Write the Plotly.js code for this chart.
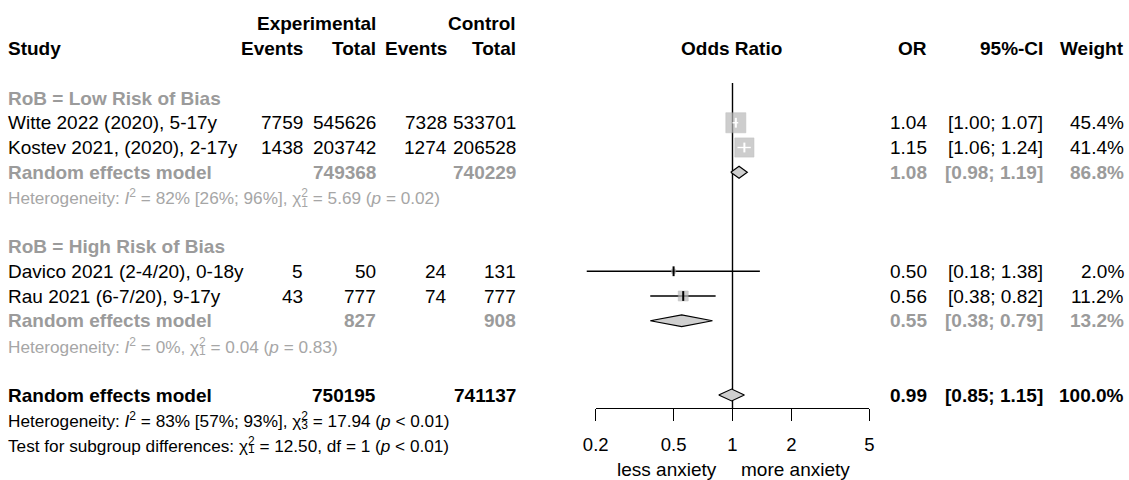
<!DOCTYPE html>
<html>
<head>
<meta charset="utf-8">
<script src="https://cdn.plot.ly/plotly-3.0.1.min.js"></script>
<style>html,body{margin:0;padding:0;background:#fff;}#chart{width:1129px;height:480px;}</style>
</head>
<body>
<div id="chart"></div>
<script>
// ---------------- data ----------------
const studies = ['Witte 2022 (2020), 5-17y', 'Kostev 2021, (2020), 2-17y', 'Davico 2021 (2-4/20), 0-18y', 'Rau 2021 (6-7/20), 9-17y'];
const studyGroup = [0, 0, 1, 1];
const expEvents = [7759, 1438, 5, 43];
const expTotal = [545626, 203742, 50, 777];
const ctrlEvents = [7328, 1274, 24, 74];
const ctrlTotal = [533701, 206528, 131, 777];
const oddsRatio = [1.04, 1.15, 0.50, 0.56];
const ciLower = [1.00, 1.06, 0.18, 0.38];
const ciUpper = [1.07, 1.24, 1.38, 0.82];
const weight = [45.4, 41.4, 2.0, 11.2];

const groupLabels = ['RoB = Low Risk of Bias', 'RoB = High Risk of Bias'];
const groupExpTotal = [749368, 827];
const groupCtrlTotal = [740229, 908];
const groupOR = [1.08, 0.55];
const groupLower = [0.98, 0.38];
const groupUpper = [1.19, 0.79];
const groupWeight = [86.8, 13.2];
const groupHetI2 = ['82% [26%; 96%]', '0%'];
const groupHetDf = ['1', '1'];
const groupHetChi = ['5.69', '0.04'];
const groupHetP = ['= 0.02', '= 0.83'];

const overallLabel = 'Random effects model';
const overallExpTotal = 750195;
const overallCtrlTotal = 741137;
const overallOR = 0.99;
const overallLower = 0.85;
const overallUpper = 1.15;
const overallWeight = 100.0;
const overallHetI2 = '83% [57%; 93%]';
const overallHetDf = '3';
const overallHetChi = '17.94';
const overallHetP = '&lt; 0.01';
const subgroupChi = '12.50';
const subgroupDf = '1';
const subgroupP = '&lt; 0.01';

const tickVals = [0.2, 0.5, 1, 2, 5];
const tickText = ['0.2', '0.5', '1', '2', '5'];
const refValue = 1;
const labelLeft = 'less anxiety';
const labelRight = 'more anxiety';

// ---------------- layout geometry ----------------
const W = 1129, H = 480;
const FONT = 'Liberation Sans, Arial, sans-serif';
const FS = 19, FS_HET = 17.2;
const GREY = '#9b9b9b', GREY_HET = '#a6a6a6';
const rowTop = 98, rowH = 24.75;
const rowOf = px => (px - rowTop) / rowH;
const axL = 595.7, axR = 869.3, axYpx = 408;
const lgLo = Math.log10(tickVals[0]), lgHi = Math.log10(tickVals[tickVals.length - 1]);
const ppd = (axR - axL) / (lgHi - lgLo);
const x2range = [lgLo - axL / ppd, lgHi + (W - axR) / ppd];

const col = {study: 8, expEv: 303, expTot: 376, ctrlEv: 447, ctrlTot: 516, plot: 731, or: 927, ci: 1043, w: 1124};

const annotations = [];
function ann(text, xpx, row, anchor, opt) {
  opt = opt || {};
  annotations.push({
    text: opt.bold ? '<b>' + text + '</b>' : text,
    x: xpx / W, xref: 'paper', xanchor: anchor,
    y: row, yref: 'y', yanchor: 'middle',
    showarrow: false, borderpad: 0, borderwidth: 0,
    font: {family: FONT, size: opt.size || FS, color: opt.color || '#000'}
  });
}
function fmt2(v) { return v.toFixed(2); }
function ciText(l, u) { return '[' + fmt2(l) + '; ' + fmt2(u) + ']'; }
function wText(w) { return w.toFixed(1) + '%'; }
function hetLine(row, prefixPlain, i2, df, chi, p, color, withI2) {
  let prefix = prefixPlain;
  if (withI2) prefix += '<i>I</i><sup>2</sup> = ' + i2 + ', ';
  prefix += 'χ';
  const suffix = ' = ' + chi + (p !== null ? ' (<i>p</i> ' + p + ')' : '');
  ann(prefix + '<sup>2</sup>' + suffix, col.study, row, 'left', {size: FS_HET, color: color});
  ann('<span style="color:rgba(0,0,0,0)">' + prefix + '</span><sub>' + df + '</sub>', col.study, row, 'left', {size: FS_HET, color: color});
}

// header
ann('Experimental', col.expTot, -3, 'right', {bold: true});
ann('Control', col.ctrlTot, -3, 'right', {bold: true});
ann('Study', col.study, -2, 'left', {bold: true});
ann('Events', col.expEv, -2, 'right', {bold: true});
ann('Total', col.expTot, -2, 'right', {bold: true});
ann('Events', col.ctrlEv, -2, 'right', {bold: true});
ann('Total', col.ctrlTot, -2, 'right', {bold: true});
ann('Odds Ratio', col.plot, -2, 'center', {bold: true});
ann('OR', col.or, -2, 'right', {bold: true});
ann('95%-CI', col.ci, -2, 'right', {bold: true});
ann('Weight', col.w, -2, 'right', {bold: true});

// rows
const studyRow = [];
const groupRow = [];
let r = 0;
for (let g = 0; g < groupLabels.length; g++) {
  ann(groupLabels[g], col.study, r, 'left', {bold: true, color: GREY});
  r++;
  for (let i = 0; i < studies.length; i++) {
    if (studyGroup[i] !== g) continue;
    studyRow[i] = r;
    ann(studies[i], col.study, r, 'left');
    ann(String(expEvents[i]), col.expEv, r, 'right');
    ann(String(expTotal[i]), col.expTot, r, 'right');
    ann(String(ctrlEvents[i]), col.ctrlEv, r, 'right');
    ann(String(ctrlTotal[i]), col.ctrlTot, r, 'right');
    ann(fmt2(oddsRatio[i]), col.or, r, 'right');
    ann(ciText(ciLower[i], ciUpper[i]), col.ci, r, 'right');
    ann(wText(weight[i]), col.w, r, 'right');
    r++;
  }
  groupRow[g] = r;
  const o = {bold: true, color: GREY};
  ann('Random effects model', col.study, r, 'left', o);
  ann(String(groupExpTotal[g]), col.expTot, r, 'right', o);
  ann(String(groupCtrlTotal[g]), col.ctrlTot, r, 'right', o);
  ann(fmt2(groupOR[g]), col.or, r, 'right', o);
  ann(ciText(groupLower[g], groupUpper[g]), col.ci, r, 'right', o);
  ann(wText(groupWeight[g]), col.w, r, 'right', o);
  r++;
  hetLine(r, 'Heterogeneity: ', groupHetI2[g], groupHetDf[g], groupHetChi[g], groupHetP[g], GREY_HET, true);
  r += 2;
}
const overallRow = r;
ann(overallLabel, col.study, r, 'left', {bold: true});
ann(String(overallExpTotal), col.expTot, r, 'right', {bold: true});
ann(String(overallCtrlTotal), col.ctrlTot, r, 'right', {bold: true});
ann(fmt2(overallOR), col.or, r, 'right', {bold: true});
ann(ciText(overallLower, overallUpper), col.ci, r, 'right', {bold: true});
ann(wText(overallWeight), col.w, r, 'right', {bold: true});
r++;
hetLine(r, 'Heterogeneity: ', overallHetI2, overallHetDf, overallHetChi, overallHetP, '#000', true);
r++;
hetLine(r, 'Test for subgroup differences: ', '', subgroupDf, subgroupChi + ', df = ' + subgroupDf, subgroupP, '#000', false);

// axis labels below
ann(labelLeft, 667, rowOf(469), 'center');
ann(labelRight, 795, rowOf(469), 'center');

// ---------------- traces ----------------
const traces = [];
const axisRow = rowOf(axYpx);
traces.push({x: [refValue, refValue], y: [rowOf(83), axisRow], xaxis: 'x', yaxis: 'y', mode: 'lines', line: {color: '#000', width: 1.4}, hoverinfo: 'skip'});

const boxK = 20 / Math.sqrt(45.4);
const boxSize = weight.map(w => boxK * Math.sqrt(w));
const inside = oddsRatio.map((e, i) => {
  const f = Math.pow(10, (boxSize[i] / 2) / ppd);
  return ciLower[i] >= e / f && ciUpper[i] <= e * f;
});
const blackX = [], blackY = [], whiteX = [], whiteY = [];
for (let i = 0; i < studies.length; i++) {
  const X = inside[i] ? whiteX : blackX, Y = inside[i] ? whiteY : blackY;
  X.push(ciLower[i], ciUpper[i], null);
  Y.push(studyRow[i], studyRow[i], null);
}
traces.push({x: blackX, y: blackY, xaxis: 'x2', yaxis: 'y', mode: 'lines', line: {color: '#000', width: 1.4}, hoverinfo: 'skip'});
traces.push({x: oddsRatio, y: studyRow, xaxis: 'x2', yaxis: 'y', mode: 'markers',
  marker: {symbol: 'square', size: boxSize, color: '#b9b9b9', line: {color: '#a8a8a8', width: 0.6}}, hoverinfo: 'skip'});
traces.push({x: whiteX, y: whiteY, xaxis: 'x2', yaxis: 'y', mode: 'lines', line: {color: '#fff', width: 1.4}, hoverinfo: 'skip'});
traces.push({x: oddsRatio, y: studyRow, xaxis: 'x2', yaxis: 'y', mode: 'markers',
  marker: {symbol: 'line-ns', size: 7, line: {color: inside.map(b => b ? '#fff' : '#000'), width: 2}}, hoverinfo: 'skip'});

function diamond(est, lo, hi, row, fill) {
  const h = 0.24;
  traces.push({x: [lo, est, hi, est, lo], y: [row, row - h, row, row + h, row], xaxis: 'x2', yaxis: 'y',
    mode: 'lines', fill: 'toself', fillcolor: fill, line: {color: '#000', width: 1.2}, hoverinfo: 'skip'});
}
for (let g = 0; g < groupLabels.length; g++) diamond(groupOR[g], groupLower[g], groupUpper[g], groupRow[g], '#cfcfcf');
diamond(overallOR, overallLower, overallUpper, overallRow, '#cfcfcf');

const layout = {
  width: W, height: H,
  margin: {l: 0, r: 0, t: 0, b: 0},
  paper_bgcolor: '#fff', plot_bgcolor: 'rgba(0,0,0,0)',
  showlegend: false, hovermode: false,
  xaxis: {type: 'log', domain: [axL / W, axR / W], range: [lgLo, lgHi], anchor: 'free', position: 1 - axYpx / H,
    showline: true, linecolor: '#000', linewidth: 1.4, ticks: 'outside', ticklen: 12, tickwidth: 1.4, tickcolor: '#000',
    tickmode: 'array', tickvals: tickVals, ticktext: tickText, tickfont: {family: FONT, size: 18.5, color: '#000'},
    ticklabelstandoff: 7,
    showgrid: false, zeroline: false, fixedrange: true},
  xaxis2: {type: 'log', domain: [0, 1], range: x2range, anchor: 'y', visible: false, showgrid: false, zeroline: false, fixedrange: true},
  yaxis: {range: [rowOf(H), rowOf(0)], domain: [0, 1], visible: false, showgrid: false, zeroline: false, fixedrange: true},
  annotations: annotations
};
Plotly.newPlot('chart', traces, layout, {staticPlot: true, displayModeBar: false});
</script>
</body>
</html>
